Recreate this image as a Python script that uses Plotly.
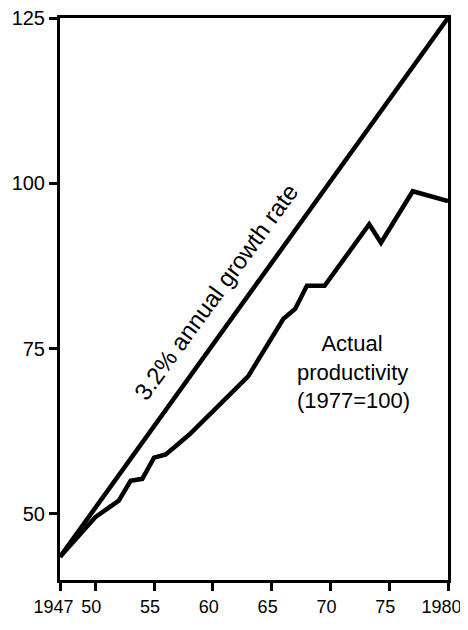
import plotly.graph_objects as go

# 3.2% annual growth reference line (endpoints)
growth_years = [1947, 1980]
growth_values = [43.5, 125]

# Actual productivity (1977=100)
actual_years = [1947, 1950, 1952, 1953, 1954, 1955, 1956, 1958, 1960, 1963,
                1966, 1967, 1968, 1969.5, 1973.3, 1974.3, 1977, 1980]
actual_values = [43.5, 49.5, 52.0, 55.0, 55.3, 58.5, 59.0, 62.0, 65.5, 70.8,
                 79.5, 81.0, 84.5, 84.5, 93.8, 91.0, 98.8, 97.3]

NB = "\u00a0"
x_tickvals = [1947, 1950, 1955, 1960, 1965, 1970, 1975, 1980]
x_ticktext = ["1947" + NB, "50", "55", "60", "65", "70", "75", "1980" + NB]
y_tickvals = [50, 75, 100, 125]

FONT = "Liberation Sans, Arial, sans-serif"

fig = go.Figure()

fig.add_trace(go.Scatter(
    x=growth_years, y=growth_values, mode="lines",
    line=dict(color="black", width=4.5), showlegend=False,
))
fig.add_trace(go.Scatter(
    x=actual_years, y=actual_values, mode="lines",
    line=dict(color="black", width=4.5), showlegend=False,
))

fig.add_annotation(
    x=1960.3, y=83.6, text="3.2% annual growth rate", showarrow=False,
    textangle=-54, font=dict(family=FONT, size=24, color="black"),
)
fig.add_annotation(
    x=1972.0, y=71.4,
    text=NB * 4 + "Actual<br>productivity<br>(1977=100)",
    showarrow=False, align="left",
    font=dict(family=FONT, size=22, color="black"),
)

axis_common = dict(
    showline=True, linecolor="black", linewidth=3, mirror=True,
    showgrid=False, zeroline=False, automargin=False,
    ticks="outside", ticklen=8, tickwidth=3, tickcolor="black",
    tickangle=0, ticklabeloverflow="allow",
)

# page body adds an 8px offset, so the figure is sized to fit the window
fig.update_layout(
    width=460, height=622,
    margin=dict(l=52, r=20, t=10, b=50),
    paper_bgcolor="white", plot_bgcolor="white",
    xaxis=dict(range=[1947, 1980], tickvals=x_tickvals, ticktext=x_ticktext,
               tickfont=dict(family=FONT, size=18, color="black"),
               ticklabelshift=-4,
               **axis_common),
    yaxis=dict(range=[40, 125], tickvals=y_tickvals,
               tickfont=dict(family=FONT, size=20, color="black"),
               **axis_common),
)

fig.write_html("out.html")
